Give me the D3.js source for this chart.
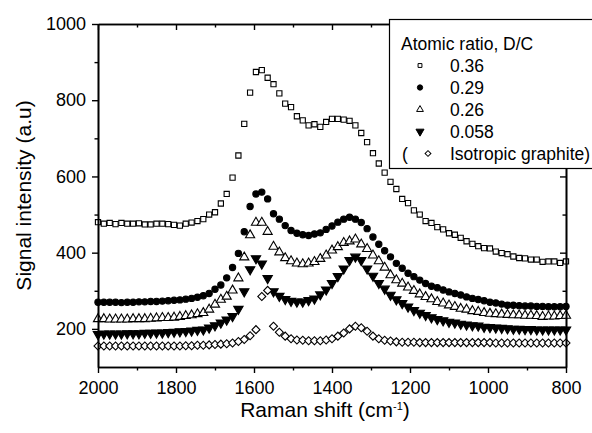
<!DOCTYPE html>
<html>
<head>
<meta charset="utf-8">
<script src="https://cdn.jsdelivr.net/npm/d3@7"></script>
<style>
  body { margin: 0; background: #fff; }
  text { font-family: "Liberation Sans", Arial, sans-serif; fill: #000; }
</style>
</head>
<body>
<svg id="chart" width="592" height="433"></svg>
<script>
// Raman shift grid (cm-1), one point every 15
const shift = [
  2000, 1985, 1970, 1955, 1940, 1925, 1910, 1895, 1880, 1865,
  1850, 1835, 1820, 1805, 1790, 1775, 1760, 1745, 1730, 1715,
  1700, 1685, 1670, 1655, 1640, 1625, 1610, 1595, 1580, 1565,
  1550, 1535, 1520, 1505, 1490, 1475, 1460, 1445, 1430, 1415,
  1400, 1385, 1370, 1355, 1340, 1325, 1310, 1295, 1280, 1265,
  1250, 1235, 1220, 1205, 1190, 1175, 1160, 1145, 1130, 1115,
  1100, 1085, 1070, 1055, 1040, 1025, 1010, 995, 980, 965,
  950, 935, 920, 905, 890, 875, 860, 845, 830, 815,
  800
];

const ratio036 = [
  480, 476, 478, 475, 478, 476, 476, 477, 474, 474,
  476, 476, 475, 473, 471, 476, 479, 483, 488, 500,
  506, 529, 554, 597, 655, 738, 820, 874, 879, 859,
  842, 818, 791, 782, 758, 747, 734, 737, 730, 743,
  751, 751, 749, 746, 734, 714, 690, 661, 634, 610,
  586, 567, 541, 530, 511, 500, 483, 478, 467, 461,
  451, 447, 439, 430, 423, 417, 412, 411, 403, 399,
  396, 390, 386, 385, 382, 382, 376, 377, 377, 373,
  377
];

const ratio029 = [
  270, 270, 270, 270, 269, 270, 270, 271, 271, 272,
  272, 273, 274, 275, 276, 278, 280, 283, 287, 293,
  304, 315, 334, 361, 398, 455, 521, 554, 559, 541,
  502, 488, 471, 458, 451, 447, 445, 449, 452, 461,
  470, 480, 488, 493, 488, 479, 463, 441, 422, 405,
  389, 372, 359, 346, 337, 328, 319, 312, 308, 302,
  297, 293, 289, 284, 280, 277, 274, 270, 268, 265,
  262, 262, 261, 260, 260, 259, 259, 258, 258, 258,
  259
];

const ratio026 = [
  226, 226, 225, 225, 225, 225, 226, 226, 226, 227,
  228, 229, 229, 230, 232, 234, 236, 239, 242, 251,
  264, 277, 285, 301, 333, 388, 446, 479, 479, 455,
  416, 401, 386, 378, 372, 370, 372, 376, 384, 393,
  406, 415, 426, 430, 435, 422, 410, 393, 378, 361,
  341, 328, 319, 309, 300, 291, 284, 278, 271, 267,
  262, 258, 253, 251, 247, 245, 242, 240, 239, 238,
  237, 236, 236, 235, 235, 234, 232, 233, 233, 234,
  235
];

const ratio0058 = [
  186, 187, 187, 187, 187, 188, 188, 188, 189, 189,
  190, 190, 191, 192, 193, 194, 195, 197, 198, 203,
  209, 216, 224, 233, 252, 298, 356, 385, 371, 333,
  298, 286, 278, 273, 271, 271, 275, 279, 290, 303,
  320, 338, 358, 380, 389, 380, 358, 339, 320, 305,
  289, 277, 267, 258, 249, 242, 236, 230, 225, 222,
  218, 216, 213, 211, 209, 208, 205, 204, 203, 202,
  201, 200, 200, 199, 199, 198, 198, 198, 198, 198,
  198
];

const graphite = [
  155, 155, 155, 155, 155, 155, 155, 155, 155, 155,
  155, 155, 155, 155, 155, 156, 156, 157, 157, 158,
  159, 160, 161, 163, 167, 172, 182, 198, 285, 301,
  207, 191, 181, 174, 171, 170, 169, 169, 169, 171,
  174, 181, 189, 200, 207, 203, 194, 181, 174, 170,
  168, 166, 165, 165, 165, 164, 164, 164, 164, 164,
  164, 164, 164, 164, 164, 164, 164, 164, 163, 163,
  163, 163, 163, 163, 163, 163, 163, 163, 163, 163,
  163
];

const seriesLabels = ["0.36", "0.29", "0.26", "0.058", "Isotropic graphite)"];
const legendTitle = "Atomic ratio, D/C";
const xTicks = [2000, 1800, 1600, 1400, 1200, 1000, 800];
const xMinor = [1900, 1700, 1500, 1300, 1100, 900];
const yTicks = [200, 400, 600, 800, 1000];
const yMinor = [300, 500, 700, 900];

const width = 592, height = 433;
const margin = { top: 24, right: 26, bottom: 66, left: 98 };

const svg = d3.select("#chart");

const x = d3.scaleLinear()
  .domain([2000, 800])
  .range([margin.left, width - margin.right]);

const y = d3.scaleLinear()
  .domain([100, 1000])
  .range([height - margin.bottom, margin.top]);

// marker styles per series
const series = [
  { values: ratio036, type: d3.symbolSquare, size: 27, fill: "#fff", rot: 0, lsize: 15 },
  { values: ratio029, type: d3.symbolCircle, size: 31, fill: "#000", rot: 0, lsize: 22 },
  { values: ratio026, type: d3.symbolTriangle, size: 36, fill: "#fff", rot: 0, lsize: 20 },
  { values: ratio0058, type: d3.symbolTriangle, size: 38, fill: "#000", rot: 180, lsize: 28 },
  { values: graphite, type: d3.symbolSquare, size: 32, fill: "#fff", rot: 45, lsize: 17 }
];

// data markers
series.forEach(function (s) {
  const sym = d3.symbol().type(s.type).size(s.size);
  svg.append("g")
    .selectAll("path")
    .data(shift.map(function (d, i) { return [d, s.values[i]]; }))
    .join("path")
    .attr("d", sym)
    .attr("transform", function (d) {
      return "translate(" + x(d[0]) + "," + y(d[1]) + ") rotate(" + s.rot + ")";
    })
    .attr("fill", s.fill)
    .attr("stroke", "#000")
    .attr("stroke-width", 1.1);
});

// axes
const plotBottom = height - margin.bottom, plotTop = margin.top;
const plotLeft = margin.left, plotRight = width - margin.right;
const fmt = d3.format("d");

function styleAxis(g) {
  g.selectAll(".domain").attr("stroke-width", 1.6);
  g.selectAll(".tick line").attr("stroke-width", 1.4);
  g.selectAll("text").attr("font-size", 18).attr("font-family", "Liberation Sans, Arial, sans-serif");
}

svg.append("g")
  .attr("transform", "translate(0," + plotBottom + ")")
  .call(d3.axisBottom(x).tickValues(xMinor).tickSize(3.5).tickSizeOuter(0).tickFormat(""))
  .call(styleAxis);
svg.append("g")
  .attr("transform", "translate(0," + plotBottom + ")")
  .call(d3.axisBottom(x).tickValues(xTicks).tickSize(6).tickSizeOuter(0).tickPadding(8).tickFormat(fmt))
  .call(styleAxis);

svg.append("g")
  .attr("transform", "translate(0," + plotTop + ")")
  .call(d3.axisTop(x).tickValues(xMinor).tickSize(-3.5).tickSizeOuter(0).tickFormat(""))
  .call(styleAxis);
svg.append("g")
  .attr("transform", "translate(0," + plotTop + ")")
  .call(d3.axisTop(x).tickValues(xTicks).tickSize(-6).tickSizeOuter(0).tickFormat(""))
  .call(styleAxis);

svg.append("g")
  .attr("transform", "translate(" + plotLeft + ",0)")
  .call(d3.axisLeft(y).tickValues(yMinor).tickSize(3.5).tickSizeOuter(0).tickFormat(""))
  .call(styleAxis);
svg.append("g")
  .attr("transform", "translate(" + plotLeft + ",0)")
  .call(d3.axisLeft(y).tickValues(yTicks).tickSize(6).tickSizeOuter(0).tickPadding(6).tickFormat(fmt))
  .call(styleAxis);

svg.append("g")
  .attr("transform", "translate(" + plotRight + ",0)")
  .call(d3.axisRight(y).tickValues(yMinor).tickSize(-3.5).tickSizeOuter(0).tickFormat(""))
  .call(styleAxis);
svg.append("g")
  .attr("transform", "translate(" + plotRight + ",0)")
  .call(d3.axisRight(y).tickValues(yTicks).tickSize(-6).tickSizeOuter(0).tickFormat(""))
  .call(styleAxis);

// axis titles
const xTitle = svg.append("text")
  .attr("x", 325)
  .attr("y", 417)
  .attr("text-anchor", "middle")
  .attr("font-size", 21);
xTitle.append("tspan").text("Raman shift (cm");
xTitle.append("tspan").attr("font-size", 11).attr("dy", -7).text("-1");
xTitle.append("tspan").attr("dy", 7).text(")");

svg.append("text")
  .attr("transform", "translate(31," + ((plotTop + plotBottom) / 2) + ") rotate(-90)")
  .attr("text-anchor", "middle")
  .attr("font-size", 21)
  .text("Signal intensity (a.u)");

// legend
const legend = svg.append("g");
legend.append("rect")
  .attr("x", 389.5)
  .attr("y", 19.5)
  .attr("width", 230)
  .attr("height", 149)
  .attr("fill", "#fff")
  .attr("stroke", "#000")
  .attr("stroke-width", 1.2);

legend.append("text")
  .attr("x", 401)
  .attr("y", 49.5)
  .attr("font-size", 17.5)
  .text(legendTitle);

series.forEach(function (s, i) {
  const cy = 65.5 + i * 22;
  const mx = i === 4 ? 428 : 420;
  legend.append("path")
    .attr("d", d3.symbol().type(s.type).size(s.lsize))
    .attr("transform", "translate(" + mx + "," + cy + ") rotate(" + s.rot + ")")
    .attr("fill", s.fill)
    .attr("stroke", "#000")
    .attr("stroke-width", 1);
  legend.append("text")
    .attr("x", 450)
    .attr("y", cy + 6.3)
    .attr("font-size", 17.5)
    .text(seriesLabels[i]);
});

legend.append("text")
  .attr("x", 402)
  .attr("y", 65.5 + 4 * 22 + 6.3)
  .attr("font-size", 17.5)
  .text("(");
</script>
</body>
</html>
